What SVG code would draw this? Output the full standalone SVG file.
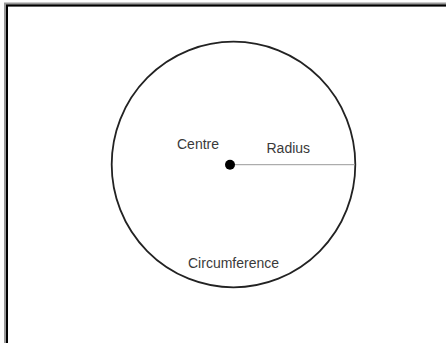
<svg xmlns="http://www.w3.org/2000/svg" width="446" height="343" viewBox="0 0 446 343">
<style>
.lbl{font-family:"Liberation Sans",Arial,sans-serif;font-size:14px;fill:#3a3a3a}
</style>
<rect width="446" height="343" fill="#fff"/>
<g id="frame">
<path d="M6,343 V4.5 H446" fill="none" stroke="#999" stroke-width="4"/>
<path d="M7,343 V5.5 H446" fill="none" stroke="#000" stroke-width="2"/>
</g>
<g id="circle">
<ellipse cx="233.5" cy="164.5" rx="121.8" ry="122.8" fill="none" stroke="#222" stroke-width="1.8"/>
<text class="lbl" x="188" y="268">Circumference</text>
</g>
<g id="connectors">
<line x1="230" y1="164.7" x2="355" y2="164.7" stroke="#999" stroke-width="1"/>
</g>
<g id="centre">
<circle cx="230" cy="164.7" r="5" fill="#000"/>
<text class="lbl" x="177" y="149">Centre</text>
</g>
<g id="radius">
<text class="lbl" x="266.5" y="152.5">Radius</text>
</g>
</svg>
